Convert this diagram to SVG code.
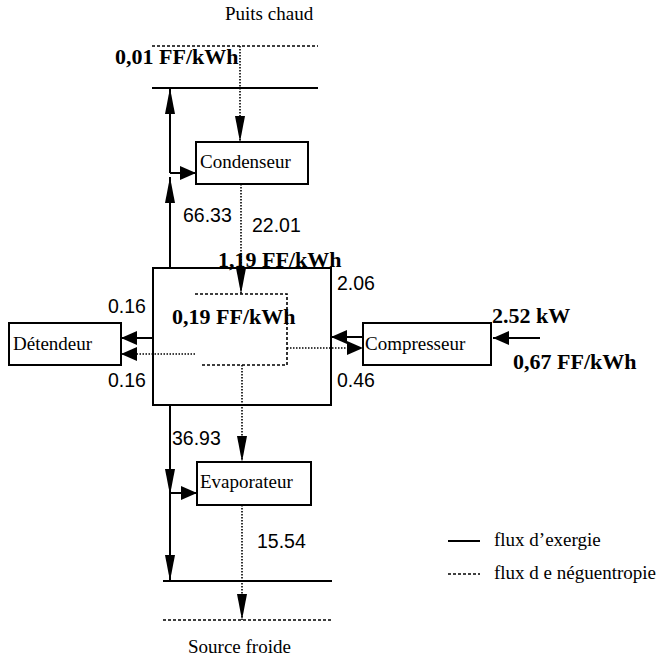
<svg xmlns="http://www.w3.org/2000/svg" width="658" height="661" viewBox="0 0 658 661">
<style>
.lbl{font-family:"Liberation Serif","Times New Roman",serif;font-size:19px;fill:#000}
.bold{font-family:"Liberation Serif","Times New Roman",serif;font-size:22px;font-weight:bold;fill:#000}
.num{font-family:"Liberation Sans",Arial,sans-serif;font-size:19.5px;fill:#000}
.box{fill:none;stroke:#000;stroke-width:2}
.sol{fill:none;stroke:#000;stroke-width:2}
.dot{fill:none;stroke:#000;stroke-width:1.6;stroke-dasharray:1.5 1.5}
.dash{fill:none;stroke:#000;stroke-width:1.6;stroke-dasharray:3 2}
</style>
<defs>
<marker id="big" markerUnits="userSpaceOnUse" markerWidth="28" markerHeight="12" refX="26" refY="5" orient="auto" viewBox="0 0 28 10">
<path d="M0,0 L26,5 L0,10 Z" fill="#000"/>
</marker>
<marker id="small" markerUnits="userSpaceOnUse" markerWidth="18" markerHeight="14" refX="16" refY="7" orient="auto" viewBox="0 0 18 14">
<path d="M0,0 L16,7 L0,14 Z" fill="#000"/>
</marker>
</defs>
<rect width="658" height="661" fill="#fff"/>

<g id="puits-chaud">
<text class="lbl" x="225" y="20">Puits chaud</text>
<line class="dash" x1="152" y1="46" x2="318" y2="46"/>
<line class="sol" x1="152" y1="88" x2="318" y2="88"/>
<text class="bold" x="115" y="64">0,01 FF/kWh</text>
</g>

<g id="source-froide">
<line class="sol" x1="163" y1="581" x2="332" y2="581"/>
<line class="dash" x1="163" y1="620" x2="332" y2="620"/>
<text class="lbl" x="188" y="653">Source froide</text>
</g>

<g id="condenseur">
<rect class="box" x="196" y="142" width="112" height="42"/>
<text class="lbl" x="200" y="168">Condenseur</text>
</g>

<g id="systeme">
<rect class="box" x="153" y="268" width="178" height="137"/>
<path class="dash" d="M195,294 H287 V365 H200"/>
<text class="bold" x="172" y="324">0,19 FF/kWh</text>
</g>

<g id="detendeur">
<rect class="box" x="9" y="323" width="112" height="42"/>
<text class="lbl" x="13" y="350">Détendeur</text>
</g>

<g id="compresseur">
<rect class="box" x="363" y="323" width="128" height="42"/>
<text class="lbl" x="365" y="350">Compresseur</text>
</g>

<g id="evaporateur">
<rect class="box" x="197" y="462" width="114" height="43"/>
<text class="lbl" x="200" y="488">Evaporateur</text>
</g>

<g id="connectors">
<line class="dot" x1="240" y1="46" x2="240" y2="142" marker-end="url(#big)"/>
<line class="sol" x1="170" y1="173" x2="170" y2="88" marker-end="url(#big)"/>
<line class="sol" x1="170" y1="268" x2="170" y2="177" marker-end="url(#big)"/>
<line class="sol" x1="170" y1="173" x2="196" y2="173" marker-end="url(#small)"/>
<line class="dot" x1="241" y1="184" x2="241" y2="294" marker-end="url(#big)"/>
<line class="sol" x1="153" y1="338" x2="121" y2="338" marker-end="url(#small)"/>
<line class="dot" x1="195" y1="354" x2="121" y2="354" marker-end="url(#small)"/>
<line class="sol" x1="363" y1="337" x2="331" y2="337" marker-end="url(#small)"/>
<line class="dot" x1="287" y1="348" x2="363" y2="348" marker-end="url(#small)"/>
<line class="sol" x1="540" y1="338" x2="493" y2="338" marker-end="url(#small)"/>
<line class="dot" x1="242" y1="365" x2="242" y2="462" marker-end="url(#big)"/>
<line class="sol" x1="170" y1="405" x2="170" y2="495" marker-end="url(#big)"/>
<line class="sol" x1="170" y1="493" x2="170" y2="581" marker-end="url(#big)"/>
<line class="sol" x1="170" y1="493" x2="197" y2="493" marker-end="url(#small)"/>
<line class="dot" x1="242" y1="505" x2="242" y2="620" marker-end="url(#big)"/>
</g>

<g id="labels">
<text class="num" x="183" y="222">66.33</text>
<text class="num" x="252" y="232">22.01</text>
<text class="bold" x="218" y="267">1,19 FF/kWh</text>
<text class="num" x="337" y="290">2.06</text>
<text class="num" x="108" y="313">0.16</text>
<text class="num" x="108" y="387">0.16</text>
<text class="num" x="337" y="387">0.46</text>
<text class="bold" x="492" y="323">2.52 kW</text>
<text class="bold" x="513" y="369">0,67 FF/kWh</text>
<text class="num" x="172" y="445">36.93</text>
<text class="num" x="257" y="548">15.54</text>
</g>

<g id="legend">
<line class="sol" x1="448" y1="541" x2="480" y2="541" stroke-width="1.5"/>
<text class="lbl" x="494" y="546">flux d’exergie</text>
<line class="dash" x1="448" y1="574" x2="480" y2="574"/>
<text class="lbl" x="494" y="579">flux d e néguentropie</text>
</g>
</svg>
